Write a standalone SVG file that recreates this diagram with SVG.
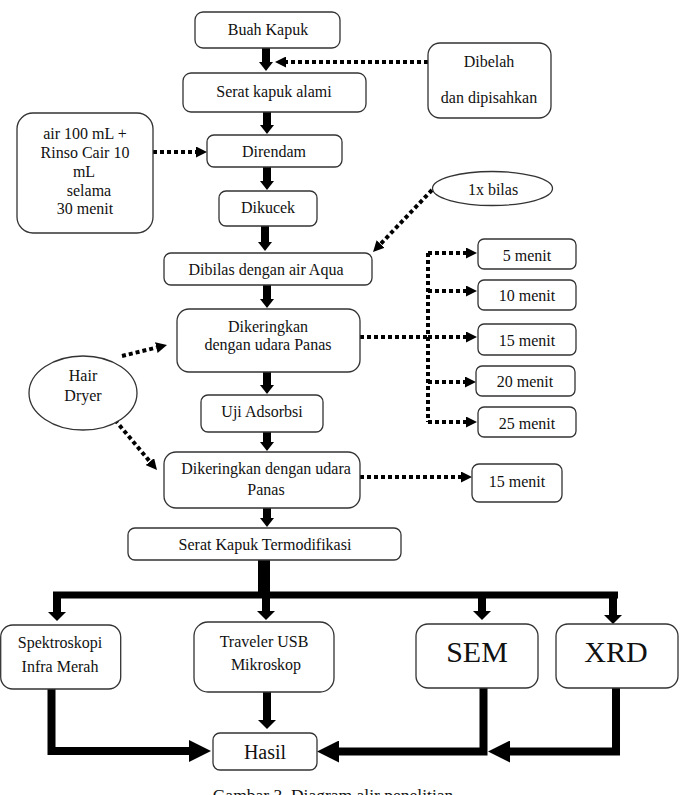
<svg xmlns="http://www.w3.org/2000/svg" width="683" height="795" viewBox="0 0 683 795">
<style>
.box{fill:#fff;stroke:#333;stroke-width:1.3}
text{font-family:"Liberation Serif","Times New Roman",serif;font-size:16px;fill:#111;text-anchor:middle}
.big{font-size:30px}
.thick{fill:none;stroke:#000;stroke-width:8}
.dot{fill:none;stroke:#000;stroke-width:4;stroke-dasharray:4 3}
</style>
<defs>
<marker id="ah" viewBox="0 0 9 14" markerWidth="9" markerHeight="14" refX="0" refY="7" orient="auto" markerUnits="userSpaceOnUse"><path d="M0,0 L9,7 L0,14 Z" fill="#000"/></marker>
<marker id="ahm" viewBox="0 0 9 18" markerWidth="9" markerHeight="18" refX="0" refY="9" orient="auto" markerUnits="userSpaceOnUse"><path d="M0,0 L9,9 L0,18 Z" fill="#000"/></marker>
<marker id="ahb" viewBox="0 0 22 22" markerWidth="22" markerHeight="22" refX="0" refY="11" orient="auto" markerUnits="userSpaceOnUse"><path d="M0,0 L22,11 L0,22 Z" fill="#000"/></marker>
<marker id="ahd" viewBox="0 0 11 11" markerWidth="11" markerHeight="11" refX="0" refY="5.5" orient="auto" markerUnits="userSpaceOnUse"><path d="M0,0 L11,5.5 L0,11 Z" fill="#000"/></marker>
</defs>
<rect width="683" height="795" fill="#fff"/>

<g id="connectors">
<path class="thick" d="M266,48 V62" marker-end="url(#ah)"/>
<path class="thick" d="M267,112 V125" marker-end="url(#ah)"/>
<path class="thick" d="M267,167 V181" marker-end="url(#ah)"/>
<path class="thick" d="M265,226 V242" marker-end="url(#ah)"/>
<path class="thick" d="M267,285 V299" marker-end="url(#ah)"/>
<path class="thick" d="M267,372 V385" marker-end="url(#ah)"/>
<path class="thick" d="M267,432 V442" marker-end="url(#ah)"/>
<path class="thick" d="M267,508 V518" marker-end="url(#ah)"/>
<path d="M264,560 V595" fill="none" stroke="#000" stroke-width="12"/>
<path d="M53,595 H618" fill="none" stroke="#000" stroke-width="7"/>
<path class="thick" d="M57,592 V612" marker-end="url(#ahm)"/>
<path class="thick" d="M266,592 V611" marker-end="url(#ahm)"/>
<path class="thick" d="M482,592 V611" marker-end="url(#ahm)"/>
<path class="thick" d="M613,592 V615" marker-end="url(#ahm)"/>
<path class="thick" d="M267,692 V720" marker-end="url(#ahm)"/>
<path class="thick" d="M51.5,689 V751 H189" stroke-width="7" marker-end="url(#ahb)"/>
<path class="thick" d="M483.5,688 V751.5 H339" stroke-width="7" marker-end="url(#ahb)"/>
<path class="thick" d="M616,688 V751.5 H510" stroke-width="7" marker-end="url(#ahb)"/>

<path class="dot" d="M428,62 H286" marker-end="url(#ahd)"/>
<path class="dot" d="M153,152 H196" marker-end="url(#ahd)"/>
<path class="dot" d="M432,190 L380.6,244" marker-end="url(#ahd)"/>
<path class="dot" d="M360,337 H428"/>
<path class="dot" d="M428,253 V422"/>
<path class="dot" d="M428,253 H466" marker-end="url(#ahd)"/>
<path class="dot" d="M428,291 H466" marker-end="url(#ahd)"/>
<path class="dot" d="M428,337 H466" marker-end="url(#ahd)"/>
<path class="dot" d="M428,382 H465" marker-end="url(#ahd)"/>
<path class="dot" d="M428,422 H466" marker-end="url(#ahd)"/>
<path class="dot" d="M360,477 H461" marker-end="url(#ahd)"/>
<path class="dot" d="M122,356 L156.3,347.6" marker-end="url(#ahd)"/>
<path class="dot" d="M115,420 L149.9,461.6" marker-end="url(#ahd)"/>
</g>

<g id="buah"><rect class="box" x="195" y="12" width="145" height="36" rx="8"/><text x="268" y="35">Buah Kapuk</text></g>
<g id="dibelah"><rect class="box" x="428" y="43" width="123" height="75" rx="12"/><text x="489" y="67">Dibelah</text><text x="489" y="103">dan dipisahkan</text></g>
<g id="serat"><rect class="box" x="183" y="73" width="183" height="39" rx="8"/><text x="274" y="97">Serat kapuk alami</text></g>
<g id="air"><rect class="box" x="17" y="113" width="136" height="120" rx="16"/>
<text x="85" y="139">air 100 mL +</text><text x="85" y="158">Rinso Cair 10</text><text x="84" y="177">mL</text><text x="89" y="196">selama</text><text x="85" y="214">30 menit</text></g>
<g id="direndam"><rect class="box" x="207" y="135" width="135" height="32" rx="7"/><text x="274" y="157">Direndam</text></g>
<g id="dikucek"><rect class="box" x="219" y="191" width="98" height="35" rx="7"/><text x="268" y="213">Dikucek</text></g>
<g id="bilas"><ellipse class="box" cx="492.5" cy="188.5" rx="60" ry="17"/><text x="493" y="195">1x bilas</text></g>
<g id="dibilas"><rect class="box" x="164" y="253" width="208" height="32" rx="7"/><text x="266" y="275">Dibilas dengan air Aqua</text></g>
<g id="m5"><rect class="box" x="478" y="239" width="98" height="30" rx="6"/><text x="527" y="261">5 menit</text></g>
<g id="m10"><rect class="box" x="478" y="280" width="98" height="30" rx="6"/><text x="527" y="301">10 menit</text></g>
<g id="m15"><rect class="box" x="478" y="324" width="98" height="31" rx="6"/><text x="527" y="346">15 menit</text></g>
<g id="m20"><rect class="box" x="476" y="366" width="99" height="30" rx="6"/><text x="525" y="387">20 menit</text></g>
<g id="m25"><rect class="box" x="478" y="407" width="98" height="30" rx="6"/><text x="527" y="429">25 menit</text></g>
<g id="dikeringkan1"><rect class="box" x="177" y="309" width="183" height="63" rx="12"/><text x="268" y="332">Dikeringkan</text><text x="268" y="350">dengan udara Panas</text></g>
<g id="hairdryer"><ellipse class="box" cx="83" cy="393" rx="54" ry="37"/><text x="83" y="381">Hair</text><text x="83" y="401">Dryer</text></g>
<g id="uji"><rect class="box" x="201" y="395" width="122" height="37" rx="7"/><text x="262" y="417">Uji Adsorbsi</text></g>
<g id="dikeringkan2"><rect class="box" x="164" y="452" width="196" height="56" rx="12"/><text x="266" y="474">Dikeringkan dengan udara</text><text x="266" y="495">Panas</text></g>
<g id="m15b"><rect class="box" x="472" y="464" width="90" height="38" rx="7"/><text x="517" y="487">15 menit</text></g>
<g id="termod"><rect class="box" x="128" y="528" width="273" height="32" rx="7"/><text x="265" y="550">Serat Kapuk Termodifikasi</text></g>
<g id="spektro"><rect class="box" x="0.7" y="625" width="120" height="64" rx="12"/><text x="60" y="648">Spektroskopi</text><text x="60" y="672">Infra Merah</text></g>
<g id="traveler"><rect class="box" x="194" y="622" width="140" height="70" rx="14"/><text x="264" y="647">Traveler USB</text><text x="266" y="670">Mikroskop</text></g>
<g id="sem"><rect class="box" x="416" y="624" width="122" height="64" rx="12"/><text class="big" x="477" y="662">SEM</text></g>
<g id="xrd"><rect class="box" x="556" y="624" width="122" height="64" rx="12"/><text class="big" x="616" y="662">XRD</text></g>
<g id="hasil"><rect class="box" x="213" y="733" width="104" height="37" rx="7"/><text x="265" y="759" style="font-size:20px">Hasil</text></g>
<text x="333" y="801" style="font-size:17.5px">Gambar 3. Diagram alir penelitian</text>
</svg>
